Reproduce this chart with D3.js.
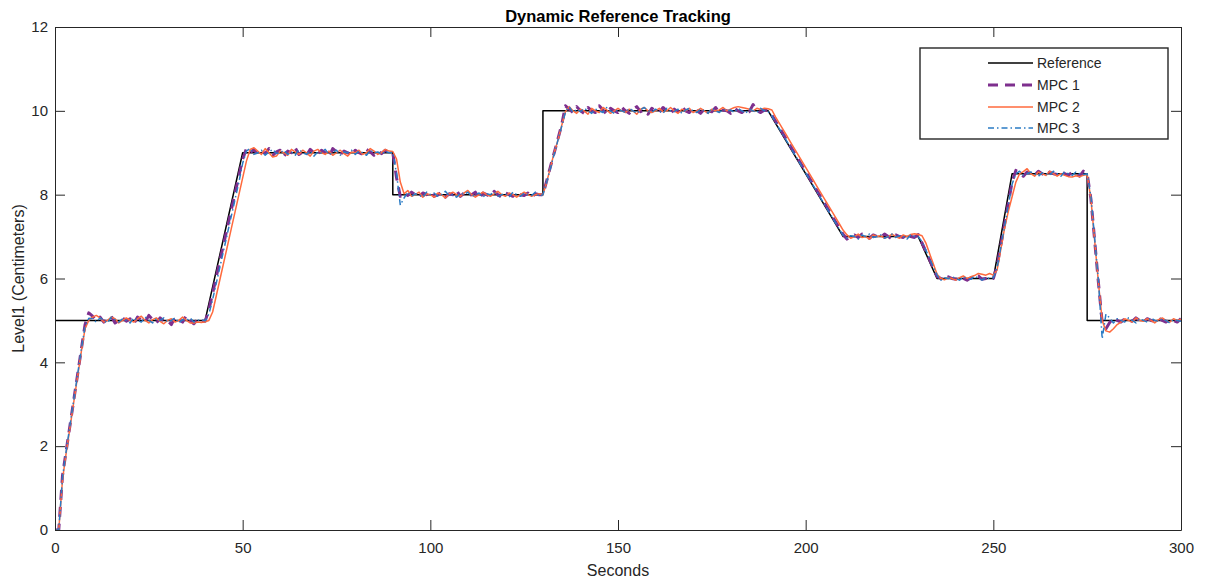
<!DOCTYPE html>
<html>
<head>
<meta charset="utf-8">
<script src="https://cdn.jsdelivr.net/npm/d3@7"></script>
<style>
  html, body { margin: 0; padding: 0; background: #fff; }
  svg { display: block; font-family: "Liberation Sans", Arial, Helvetica, sans-serif; }
</style>
</head>
<body>
<svg id="chart" width="1205" height="583"></svg>
<script>
// Reference set-point profile (piecewise linear breakpoints)
const refTime  = [0, 40, 50, 90, 90, 130, 130, 190, 210, 230, 235, 250, 255, 275, 275, 300];
const refLevel = [5, 5, 9, 9, 8, 8, 10, 10, 7, 7, 6, 6, 8.5, 8.5, 5, 5];

// Controller responses, sampled once per second from t = 0 to t = 300
const seconds = d3.range(0, 301);

const mpc1 = [
  0, 0, 1.3, 1.9, 2.5, 3.1, 3.7, 4.3, 4.9, 5.18,
  5.1, 5.0, 5.08, 4.96, 5.04, 5.1, 4.94, 5.0, 5.06, 4.98,
  5.04, 4.92, 5.08, 5.0, 4.96, 5.12, 5.02, 4.94, 5.06, 4.98,
  5.0, 4.9, 5.08, 5.02, 4.96, 5.12, 5.0, 4.92, 5.04, 4.98,
  4.98, 5.25, 5.65, 6.05, 6.45, 6.85, 7.25, 7.65, 8.05, 8.45,
  8.85, 9.1, 9.0, 9.08, 8.96, 9.04, 8.98, 9.1, 8.94, 9.02,
  9.06, 8.92, 9.04, 9.0, 9.12, 8.96, 9.02, 8.94, 9.08, 9.0,
  8.96, 9.06, 9.0, 8.9, 9.1, 9.02, 8.96, 9.04, 9.0, 8.94,
  9.06, 9.0, 8.96, 9.08, 9.02, 8.94, 9.04, 8.98, 9.06, 9.0,
  9.0, 8.4, 7.96, 8.04, 7.98, 8.06, 8.0, 7.94, 8.04, 8.0,
  8.08, 7.96, 8.0, 8.06, 7.94, 8.02, 8.0, 8.1, 7.96, 8.04,
  7.98, 8.0, 8.06, 7.9, 8.04, 8.0, 7.96, 8.08, 8.0, 7.94,
  8.04, 8.0, 7.96, 8.06, 8.0, 7.98, 8.04, 7.94, 8.02, 8.0,
  8.0, 8.33, 8.67, 9.0, 9.33, 9.67, 10.12, 10.04, 9.96, 10.1,
  10.0, 9.94, 10.08, 10.0, 9.96, 10.12, 10.02, 9.92, 10.06, 10.0,
  9.96, 10.08, 10.0, 9.94, 10.04, 10.1, 9.98, 10.02, 9.92, 10.06,
  10.0, 9.96, 10.08, 10.0, 9.94, 10.04, 9.98, 10.1, 10.0, 9.96,
  10.06, 10.0, 9.94, 10.04, 10.0, 9.98, 10.08, 9.96, 10.02, 10.0,
  9.94, 10.06, 10.0, 9.96, 10.04, 9.98, 10.15, 10.0, 9.96, 10.02,
  10.0, 9.9, 9.75, 9.6, 9.45, 9.3, 9.15, 9.0, 8.85, 8.7,
  8.55, 8.4, 8.25, 8.1, 7.95, 7.8, 7.65, 7.5, 7.35, 7.2,
  7.05, 6.94, 7.0, 7.04, 6.98, 7.06, 7.0, 6.96, 7.04, 7.0,
  6.98, 7.06, 7.0, 6.94, 7.04, 7.0, 6.98, 7.06, 7.0, 6.98,
  7.05, 6.85, 6.65, 6.45, 6.25, 6.05, 6.0, 5.96, 6.04, 6.0,
  5.98, 6.04, 6.0, 5.96, 6.02, 6.0, 6.06, 5.98, 6.0, 6.04,
  6.0, 6.3, 6.8, 7.3, 7.8, 8.3, 8.58, 8.5, 8.44, 8.54,
  8.5, 8.46, 8.56, 8.5, 8.44, 8.54, 8.5, 8.48, 8.56, 8.5,
  8.46, 8.54, 8.5, 8.44, 8.56, 8.5, 7.9, 6.9, 5.9, 4.95,
  4.8, 4.95, 5.06, 5.0, 4.96, 5.04, 5.0, 4.98, 5.06, 5.0,
  4.96, 5.04, 5.0, 4.98, 5.06, 5.0, 4.96, 5.02, 5.0, 4.96,
  5.04
];

const mpc2 = [
  0, 0, 1.2, 1.85, 2.45, 3.05, 3.65, 4.25, 4.8, 5.0,
  5.08, 5.12, 5.06, 4.96, 5.0, 5.08, 5.04, 4.94, 5.0, 5.06,
  5.0, 4.96, 5.04, 5.1, 5.0, 4.94, 5.02, 5.06, 4.98, 4.92,
  5.0, 5.04, 4.96, 5.0, 5.08, 5.0, 4.94, 4.94, 4.96, 4.95,
  4.97, 5.0, 5.2, 5.6, 6.0, 6.4, 6.8, 7.2, 7.6, 8.0,
  8.4, 8.8, 9.08, 9.12, 9.04, 8.96, 9.1, 9.0, 8.9, 8.92,
  9.04, 9.0, 8.94, 9.08, 9.02, 8.96, 9.06, 9.0, 8.92, 9.04,
  9.08, 9.0, 8.96, 9.04, 8.94, 9.0, 9.06, 8.98, 8.92, 9.02,
  9.0, 9.06, 8.96, 9.0, 9.1, 9.04, 8.96, 9.0, 9.08, 9.04,
  9.03, 8.85, 8.3, 8.02, 8.1, 7.96, 8.0, 8.06, 7.94, 8.02,
  8.0, 7.94, 8.04, 8.0, 7.92, 8.02, 8.06, 8.0, 7.96, 8.04,
  8.1, 8.0, 7.94, 8.0, 8.06, 8.0, 7.96, 8.02, 8.08, 8.0,
  7.96, 8.04, 8.0, 7.94, 8.0, 8.06, 8.0, 7.96, 8.0, 8.02,
  8.0, 8.3, 8.65, 9.0, 9.3, 9.65, 9.98, 10.1, 10.0, 9.94,
  10.04, 10.0, 9.92, 10.06, 10.0, 9.96, 10.08, 10.02, 9.94, 10.0,
  10.06, 10.0, 9.96, 10.04, 10.0, 9.92, 10.04, 10.08, 10.0, 9.96,
  10.0, 10.06, 9.98, 10.0, 10.08, 10.0, 9.94, 10.04, 10.0, 10.06,
  9.96, 10.0, 10.06, 10.0, 9.94, 10.04, 10.0, 10.02, 10.08, 10.0,
  10.04, 10.08, 10.1, 10.08, 10.06, 10.04, 10.0, 10.06, 10.03, 10.06,
  10.05, 10.02, 9.85, 9.7, 9.55, 9.4, 9.25, 9.1, 8.95, 8.8,
  8.65, 8.5, 8.35, 8.2, 8.05, 7.9, 7.75, 7.6, 7.45, 7.3,
  7.15, 7.04, 6.96, 7.0, 7.06, 6.98, 7.0, 6.94, 7.04, 7.0,
  7.02, 6.96, 7.0, 7.06, 7.0, 6.96, 7.04, 7.0, 7.05, 7.07,
  7.05, 7.02, 6.85, 6.6, 6.35, 6.1, 6.0, 5.97, 6.02, 6.0,
  5.96, 6.02, 6.06, 6.0, 6.04, 6.07, 6.12, 6.1, 6.08, 6.12,
  6.08, 6.2, 6.7, 7.2, 7.6, 7.95, 8.3, 8.5, 8.55, 8.62,
  8.5, 8.44, 8.54, 8.5, 8.46, 8.56, 8.5, 8.44, 8.5, 8.46,
  8.43, 8.42, 8.45, 8.43, 8.46, 8.48, 7.9, 6.9, 5.9, 5.0,
  4.75, 4.72, 4.8, 4.9, 4.96, 5.04, 5.0, 4.96, 5.06, 5.0,
  4.98, 5.04, 5.0, 4.94, 5.02, 5.06, 5.0, 4.96, 5.04, 5.0,
  5.02
];

const mpc3 = [
  0, 0, 1.25, 1.9, 2.5, 3.1, 3.7, 4.3, 4.85, 5.05,
  5.04, 4.96, 5.06, 5.0, 4.94, 5.08, 5.02, 4.96, 5.04, 5.0,
  4.94, 5.06, 5.0, 4.96, 5.08, 5.0, 4.94, 5.04, 5.0, 5.06,
  4.96, 5.0, 5.06, 4.94, 5.02, 5.0, 5.06, 4.96, 5.0, 5.02,
  4.99, 5.15, 5.5, 5.9, 6.3, 6.7, 7.1, 7.5, 7.9, 8.3,
  8.75, 9.04, 9.1, 8.96, 9.0, 9.06, 8.94, 9.02, 9.08, 8.98,
  9.0, 9.06, 8.96, 9.02, 8.94, 9.08, 9.0, 8.96, 9.04, 8.92,
  9.02, 9.0, 9.08, 8.96, 9.0, 9.06, 8.94, 9.02, 9.0, 9.06,
  8.96, 9.04, 9.0, 8.94, 9.06, 9.0, 9.02, 8.96, 9.04, 9.0,
  9.01, 8.5, 7.75, 7.92, 8.06, 7.96, 8.02, 8.0, 7.94, 8.06,
  8.0, 8.04, 7.96, 8.0, 8.08, 7.98, 8.0, 7.94, 8.04, 8.0,
  8.06, 7.96, 8.0, 8.04, 7.94, 8.02, 8.0, 8.06, 7.96, 8.0,
  8.02, 7.94, 8.06, 8.0, 7.96, 8.04, 8.0, 7.98, 8.06, 7.96,
  8.0, 8.3, 8.63, 8.97, 9.3, 9.63, 9.97, 10.1, 9.96, 10.04,
  9.98, 10.06, 10.0, 9.94, 10.04, 10.0, 9.96, 10.08, 10.0, 9.94,
  10.04, 10.0, 9.96, 10.06, 10.0, 9.94, 10.02, 10.08, 10.0, 9.96,
  10.04, 10.0, 9.94, 10.06, 10.0, 9.98, 10.04, 9.94, 10.02, 10.06,
  10.0, 9.96, 10.04, 10.0, 9.94, 10.06, 10.0, 9.96, 10.04, 10.0,
  10.02, 9.96, 10.06, 10.0, 9.94, 10.04, 10.0, 9.96, 10.06, 10.0,
  9.98, 9.88, 9.72, 9.57, 9.42, 9.27, 9.12, 8.97, 8.82, 8.67,
  8.52, 8.37, 8.22, 8.07, 7.92, 7.77, 7.62, 7.47, 7.32, 7.17,
  7.03, 6.96, 7.02, 7.0, 6.94, 7.04, 7.0, 7.06, 6.98, 7.0,
  7.04, 6.96, 7.0, 7.06, 6.98, 7.02, 7.0, 6.94, 7.04, 7.0,
  7.0, 6.88, 6.68, 6.48, 6.28, 6.08, 5.96, 6.02, 6.0, 6.04,
  6.0, 5.96, 6.04, 6.0, 5.98, 6.06, 6.0, 5.96, 6.02, 6.0,
  6.02, 6.25, 6.75, 7.25, 7.75, 8.25, 8.5, 8.56, 8.46, 8.5,
  8.54, 8.5, 8.44, 8.52, 8.5, 8.46, 8.56, 8.5, 8.44, 8.54,
  8.5, 8.46, 8.54, 8.5, 8.48, 8.5, 7.95, 6.95, 5.95, 4.56,
  5.15, 5.06, 4.94, 5.04, 5.0, 4.96, 5.06, 5.0, 4.94, 5.04,
  5.0, 4.96, 5.06, 5.0, 4.98, 5.04, 5.0, 4.94, 5.02, 5.0,
  4.98
];

const xTicks = [0, 50, 100, 150, 200, 250, 300];
const yTicks = [0, 2, 4, 6, 8, 10, 12];
const seriesNames = ["Reference", "MPC 1", "MPC 2", "MPC 3"];

const svg = d3.select("#chart");
const plot = { left: 55, right: 1181, top: 27, bottom: 530 };

const x = d3.scaleLinear().domain([0, 300]).range([plot.left, plot.right]);
const y = d3.scaleLinear().domain([0, 12]).range([plot.bottom, plot.top]);

const axisColor = "#262626";

svg.append("defs").append("clipPath").attr("id", "plotClip")
  .append("rect")
  .attr("x", plot.left).attr("y", plot.top)
  .attr("width", plot.right - plot.left).attr("height", plot.bottom - plot.top);

// Line styles for each trace
const styles = [
  { name: seriesNames[0], color: "#000000", width: 1.5, dash: null },
  { name: seriesNames[1], color: "#7E2F8E", width: 3, dash: "10,7" },
  { name: seriesNames[2], color: "#FF6A3D", width: 1.5, dash: null },
  { name: seriesNames[3], color: "#2A7BC4", width: 1.5, dash: "6,3,1.5,3" }
];

const line = d3.line().x(d => x(d[0])).y(d => y(d[1]));

const traces = [
  d3.zip(refTime, refLevel),
  d3.zip(seconds, mpc1),
  d3.zip(seconds, mpc2),
  d3.zip(seconds, mpc3)
];

const lines = svg.append("g").attr("clip-path", "url(#plotClip)");
traces.forEach((data, i) => {
  const s = styles[i];
  lines.append("path")
    .datum(data)
    .attr("d", line)
    .attr("fill", "none")
    .attr("stroke", s.color)
    .attr("stroke-width", s.width)
    .attr("stroke-linejoin", "round")
    .attr("stroke-dasharray", s.dash);
});

// Axes: labelled bottom/left, tick-only top/right (boxed frame, inward ticks)
function styleAxis(g) {
  g.selectAll(".domain").attr("stroke", axisColor).attr("stroke-width", 1);
  g.selectAll(".tick line").attr("stroke", axisColor).attr("stroke-width", 1);
  g.selectAll(".tick text").attr("fill", axisColor).style("font-size", "15px");
}

svg.append("g")
  .attr("transform", `translate(0,${plot.bottom})`)
  .call(d3.axisBottom(x).tickValues(xTicks).tickFormat(d3.format("d"))
    .tickSizeInner(-10).tickSizeOuter(0).tickPadding(12))
  .call(styleAxis);

svg.append("g")
  .attr("transform", `translate(${plot.left},0)`)
  .call(d3.axisLeft(y).tickValues(yTicks).tickFormat(d3.format("d"))
    .tickSizeInner(-10).tickSizeOuter(0).tickPadding(7))
  .call(styleAxis);

svg.append("g")
  .attr("transform", `translate(0,${plot.top})`)
  .call(d3.axisTop(x).tickValues(xTicks).tickFormat("")
    .tickSizeInner(-10).tickSizeOuter(0))
  .call(styleAxis);

svg.append("g")
  .attr("transform", `translate(${plot.right},0)`)
  .call(d3.axisRight(y).tickValues(yTicks).tickFormat("")
    .tickSizeInner(-10).tickSizeOuter(0))
  .call(styleAxis);

// Titles
svg.append("text")
  .attr("x", (plot.left + plot.right) / 2).attr("y", 22)
  .attr("text-anchor", "middle")
  .attr("fill", "#000")
  .style("font-size", "16.5px").style("font-weight", "bold")
  .text("Dynamic Reference Tracking");

svg.append("text")
  .attr("x", (plot.left + plot.right) / 2).attr("y", 576)
  .attr("text-anchor", "middle")
  .attr("fill", axisColor)
  .style("font-size", "16px")
  .text("Seconds");

svg.append("text")
  .attr("transform", `translate(24,${(plot.top + plot.bottom) / 2}) rotate(-90)`)
  .attr("text-anchor", "middle")
  .attr("fill", axisColor)
  .style("font-size", "16px")
  .text("Level1 (Centimeters)");

// Legend
const legend = svg.append("g");
legend.append("rect")
  .attr("x", 920).attr("y", 48).attr("width", 248).attr("height", 91)
  .attr("fill", "#fff").attr("stroke", axisColor).attr("stroke-width", 1.4);

const rowY = [63, 85, 107, 128];
styles.forEach((s, i) => {
  legend.append("line")
    .attr("x1", 988).attr("x2", 1033)
    .attr("y1", rowY[i]).attr("y2", rowY[i])
    .attr("stroke", s.color)
    .attr("stroke-width", s.width)
    .attr("stroke-dasharray", s.dash);
  legend.append("text")
    .attr("x", 1037).attr("y", rowY[i])
    .attr("dy", "0.35em")
    .attr("fill", axisColor)
    .style("font-size", "14px")
    .text(s.name);
});
</script>
</body>
</html>
